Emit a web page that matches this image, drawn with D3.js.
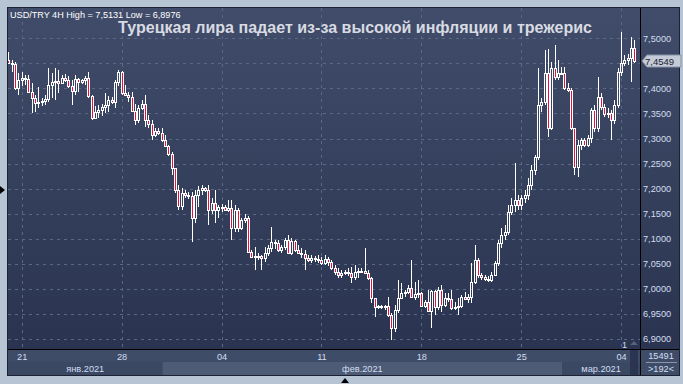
<!DOCTYPE html>
<html>
<head>
<meta charset="utf-8">
<script src="https://cdn.jsdelivr.net/npm/d3@7"></script>
<style>
  body { margin: 0; background: #b7c4d4; }
  svg { display: block; font-family: "Liberation Sans", Arial, sans-serif; }
</style>
</head>
<body>
<div id="chart"></div>
<script>
// USD/TRY 4H candles (open = previous close)
var firstOpen = 7.456;
var closes = [7.450,7.448,7.400,7.416,7.420,7.418,7.392,7.380,7.370,7.372,
  7.374,7.378,7.406,7.412,7.414,7.410,7.420,7.416,7.404,7.394,
  7.418,7.412,7.416,7.420,7.384,7.341,7.353,7.357,7.362,7.366,
  7.376,7.372,7.412,7.432,7.390,7.386,7.382,7.355,7.337,7.360,
  7.368,7.337,7.329,7.307,7.315,7.311,7.297,7.285,7.269,7.241,
  7.197,7.165,7.191,7.187,7.185,7.141,7.187,7.197,7.201,7.197,
  7.157,7.171,7.157,7.163,7.163,7.157,7.161,7.121,7.157,7.121,
  7.137,7.141,7.074,7.064,7.066,7.066,7.062,7.072,7.082,7.094,
  7.092,7.078,7.084,7.098,7.072,7.096,7.078,7.072,7.070,7.062,
  7.058,7.062,7.060,7.058,7.052,7.060,7.054,7.042,7.034,7.028,
  7.032,7.034,7.032,7.024,7.034,7.036,7.036,7.032,7.022,6.982,
  6.964,6.966,6.964,6.966,6.948,6.922,6.958,6.982,6.992,6.994,
  7.002,6.984,6.990,6.992,6.966,6.974,6.956,6.996,6.964,6.998,
  6.968,6.982,6.980,6.962,6.964,6.966,6.984,6.980,6.984,7.014,
  7.058,7.028,7.024,7.020,7.018,7.028,7.052,7.092,7.108,7.114,
  7.153,7.167,7.177,7.167,7.181,7.187,7.207,7.237,7.263,7.366,
  7.372,7.430,7.321,7.440,7.422,7.430,7.430,7.400,7.396,7.321,
  7.243,7.287,7.297,7.287,7.301,7.357,7.321,7.382,7.362,7.349,
  7.351,7.337,7.366,7.432,7.450,7.456,7.460,7.480,7.4549];
var highs = [7.472,7.456,7.452,7.430,7.432,7.426,7.426,7.410,7.386,7.402,
  7.380,7.386,7.440,7.430,7.440,7.436,7.426,7.428,7.424,7.416,
  7.426,7.420,7.418,7.424,7.432,7.386,7.364,7.366,7.368,7.390,
  7.384,7.382,7.416,7.436,7.434,7.406,7.392,7.392,7.368,7.366,
  7.376,7.386,7.347,7.337,7.321,7.321,7.321,7.307,7.287,7.273,
  7.241,7.207,7.201,7.197,7.193,7.193,7.197,7.205,7.207,7.203,
  7.207,7.181,7.197,7.167,7.169,7.167,7.177,7.177,7.167,7.161,
  7.141,7.149,7.145,7.078,7.084,7.072,7.068,7.084,7.088,7.123,
  7.098,7.098,7.088,7.102,7.108,7.102,7.098,7.088,7.082,7.078,
  7.068,7.068,7.066,7.068,7.064,7.068,7.064,7.058,7.048,7.042,
  7.038,7.038,7.042,7.044,7.048,7.042,7.042,7.082,7.038,7.024,
  6.982,6.968,6.968,6.968,6.984,6.952,6.968,7.018,7.012,6.998,
  7.008,7.058,7.014,7.018,6.994,6.978,6.998,6.998,6.998,7.004,
  7.008,6.992,6.992,6.998,6.974,6.982,6.988,6.994,6.990,7.052,
  7.088,7.062,7.032,7.028,7.026,7.034,7.056,7.098,7.121,7.127,
  7.167,7.181,7.251,7.187,7.187,7.197,7.221,7.247,7.267,7.440,
  7.380,7.476,7.478,7.452,7.486,7.456,7.442,7.442,7.410,7.400,
  7.321,7.297,7.301,7.301,7.307,7.360,7.366,7.422,7.390,7.368,
  7.360,7.357,7.376,7.440,7.5131,7.466,7.468,7.502,7.496];
var lows = [7.448,7.432,7.396,7.386,7.404,7.406,7.390,7.351,7.353,7.360,
  7.364,7.366,7.372,7.380,7.376,7.390,7.408,7.412,7.400,7.366,
  7.386,7.392,7.408,7.406,7.380,7.337,7.339,7.341,7.345,7.351,
  7.353,7.368,7.360,7.404,7.386,7.384,7.372,7.353,7.327,7.331,
  7.357,7.323,7.321,7.297,7.303,7.307,7.293,7.283,7.265,7.227,
  7.191,7.157,7.157,7.181,7.179,7.094,7.131,7.163,7.187,7.193,
  7.127,7.149,7.131,7.141,7.153,7.155,7.153,7.098,7.114,7.114,
  7.118,7.131,7.072,7.062,7.038,7.058,7.038,7.054,7.066,7.074,
  7.080,7.074,7.072,7.078,7.070,7.068,7.074,7.070,7.062,7.038,
  7.054,7.052,7.054,7.052,7.048,7.048,7.046,7.038,7.028,7.022,
  7.022,7.028,7.026,7.012,7.018,7.022,7.032,7.030,7.018,6.972,
  6.944,6.960,6.960,6.958,6.944,6.8976,6.914,6.952,6.980,6.984,
  6.990,6.982,6.978,6.982,6.964,6.962,6.954,6.922,6.948,6.958,
  6.954,6.964,6.974,6.958,6.958,6.948,6.962,6.978,6.972,6.972,
  7.010,7.022,7.018,7.016,7.014,7.014,7.026,7.046,7.082,7.098,
  7.108,7.147,7.153,7.157,7.157,7.171,7.177,7.197,7.227,7.257,
  7.353,7.366,7.303,7.317,7.416,7.416,7.426,7.396,7.392,7.317,
  7.227,7.223,7.277,7.283,7.283,7.291,7.313,7.313,7.357,7.343,
  7.341,7.297,7.329,7.360,7.424,7.444,7.446,7.412,7.450];

// axis ticks
var priceTicks = [7.50,7.45,7.40,7.35,7.30,7.25,7.20,7.15,7.10,7.05,7.00,6.95,6.90];
var dateTickIdx = [4,34,64,94,124,154,184];
var dateTickLabels = ["21","28","04","11","18","25","04"];
var monthLabels = ["янв.2021","фев.2021","мар.2021"];
var monthStartIdx = [-3,46,166];
var lastPrice = 7.4549;

var W = 683, H = 384;
var plot = {left: 8, top: 8, right: 640, bottom: 349};

var svg = d3.select("#chart").append("svg")
    .attr("width", W)
    .attr("height", H);

var defs = svg.append("defs");
var grad = defs.append("linearGradient")
    .attr("id", "bg").attr("x1", 0).attr("y1", 0).attr("x2", 0).attr("y2", 1);
grad.append("stop").attr("offset", "0%").attr("stop-color", "#404c69");
grad.append("stop").attr("offset", "100%").attr("stop-color", "#2a3451");
defs.append("clipPath").attr("id", "clip")
    .append("rect")
    .attr("x", plot.left).attr("y", plot.top)
    .attr("width", plot.right - plot.left).attr("height", plot.bottom - plot.top);

// panel background
svg.append("rect")
    .attr("x", plot.left).attr("y", plot.top)
    .attr("width", 680 - plot.left).attr("height", plot.bottom - plot.top)
    .attr("fill", "url(#bg)");

var x = d3.scaleLinear().domain([4, 184]).range([21.7, 621.1]);
var y = d3.scaleLinear().domain([6.9, 7.5]).range([339, 38.3]);

// gridlines
var grid = svg.append("g").attr("clip-path", "url(#clip)");
grid.selectAll(".hg")
    .data(priceTicks)
    .enter()
    .append("line")
    .attr("x1", plot.left).attr("x2", plot.right)
    .attr("y1", function (d) { return Math.round(y(d)) + 0.5; })
    .attr("y2", function (d) { return Math.round(y(d)) + 0.5; })
    .attr("stroke", "#5b6884")
    .attr("stroke-dasharray", "3,4");
grid.selectAll(".vg")
    .data(dateTickIdx)
    .enter()
    .append("line")
    .attr("y1", plot.top).attr("y2", plot.bottom)
    .attr("x1", function (d) { return Math.round(x(d)) + 0.5; })
    .attr("x2", function (d) { return Math.round(x(d)) + 0.5; })
    .attr("stroke", "#5b6884")
    .attr("stroke-dasharray", "3,4");

// candles
var candles = closes.map(function (c, i) {
    var o = i === 0 ? firstOpen : closes[i - 1];
    return {i: i, o: o, c: c, h: Math.max(highs[i], o, c), l: Math.min(lows[i], o, c)};
});

var cg = svg.append("g").attr("clip-path", "url(#clip)")
    .attr("shape-rendering", "crispEdges");

candles.forEach(function (d) {
    var cx = Math.round(x(d.i));
    var top = Math.round(y(Math.max(d.o, d.c)));
    var bot = Math.round(y(Math.min(d.o, d.c)));
    var hi = Math.round(y(d.h));
    var lo = Math.round(y(d.l));
    if (hi < top) {
        cg.append("line").attr("x1", cx + 0.5).attr("x2", cx + 0.5)
            .attr("y1", hi).attr("y2", top).attr("stroke", "#fff");
    }
    if (lo > bot) {
        cg.append("line").attr("x1", cx + 0.5).attr("x2", cx + 0.5)
            .attr("y1", bot).attr("y2", lo).attr("stroke", "#fff");
    }
    cg.append("rect")
        .attr("x", cx - 0.5)
        .attr("y", top + 0.5)
        .attr("width", 2)
        .attr("height", Math.max(bot - top, 1))
        .attr("fill", d.c < d.o ? "#e3133d" : "none")
        .attr("stroke", "#fff");
});

// bottom axis bands
svg.append("rect").attr("x", plot.left).attr("y", plot.bottom)
    .attr("width", 680 - plot.left).attr("height", 376 - plot.bottom)
    .attr("fill", "#3e4c68");
monthLabels.forEach(function (m, k) {
    var x0 = k === 0 ? plot.left : x(monthStartIdx[k]) + 1;
    var x1 = k === monthLabels.length - 1 ? plot.right : x(monthStartIdx[k + 1]) + 1;
    svg.append("rect").attr("x", x0).attr("y", 362)
        .attr("width", x1 - x0).attr("height", 14)
        .attr("fill", k % 2 === 1 ? "#4d5b77" : "#3a4864");
    svg.append("text").attr("x", (x0 + x1) / 2).attr("y", 372)
        .attr("text-anchor", "middle")
        .attr("font-size", 9.2).attr("fill", "#d3def0")
        .text(m);
});

// scroll strip near right
svg.append("rect").attr("x", 630).attr("y", 349).attr("width", 8).attr("height", 27)
    .attr("fill", "#2b3551");
svg.append("path").attr("d", "M630,345 L634,341 L638,345 Z").attr("fill", "#55627c");
svg.append("text").attr("x", 622).attr("y", 348)
    .attr("font-size", 9).attr("fill", "#d3def0").text("1");

var xAxis = d3.axisBottom(x)
    .tickValues(dateTickIdx)
    .tickFormat(function (d, k) { return dateTickLabels[k]; })
    .tickSize(0)
    .tickPadding(4);
var xg = svg.append("g").attr("transform", "translate(0," + plot.bottom + ")").call(xAxis);
xg.select(".domain").remove();
xg.selectAll("text").attr("font-size", 9.2).attr("fill", "#d3def0")
    .attr("font-family", "Liberation Sans, Arial, sans-serif");

// right price axis (7,45 label sits under the current price tag)
var yAxis = d3.axisRight(y)
    .tickValues(priceTicks.filter(function (d) { return Math.abs(d - lastPrice) > 0.02; }))
    .tickFormat(function (d) { return d.toFixed(4).replace(".", ","); })
    .tickSize(0)
    .tickPadding(3);
var yg = svg.append("g").attr("transform", "translate(" + plot.right + ",0)").call(yAxis);
yg.select(".domain").remove();
yg.selectAll("text").attr("font-size", 9.2).attr("fill", "#d3def0")
    .attr("font-family", "Liberation Sans, Arial, sans-serif");

// separators
svg.append("line").attr("x1", plot.left).attr("x2", 680)
    .attr("y1", plot.bottom + 0.5).attr("y2", plot.bottom + 0.5)
    .attr("stroke", "#000");
svg.append("line").attr("x1", plot.right + 0.5).attr("x2", plot.right + 0.5)
    .attr("y1", plot.top).attr("y2", 376)
    .attr("stroke", "#000");
svg.append("rect").attr("x", plot.left - 0.5).attr("y", plot.top - 0.5)
    .attr("width", 680 - plot.left).attr("height", 376 - plot.top)
    .attr("fill", "none").attr("stroke", "#1c2233");

// current price label
var py = Math.round(y(lastPrice));
svg.append("path")
    .attr("d", "M642," + py + " L647," + (py - 6) + " L681," + (py - 6) +
        " L681," + (py + 6) + " L647," + (py + 6) + " Z")
    .attr("fill", "#c4cbd6").attr("stroke", "#8793a6");
svg.append("text").attr("x", 645).attr("y", py + 4)
    .attr("font-size", 9.5).attr("fill", "#1b2233")
    .text(lastPrice.toFixed(4).replace(".", ","));

// bars counter box
svg.append("text").attr("x", 661).attr("y", 359).attr("text-anchor", "middle")
    .attr("font-size", 9.2).attr("fill", "#d3def0").text("15491");
svg.append("line").attr("x1", 646).attr("x2", 677).attr("y1", 362.5).attr("y2", 362.5)
    .attr("stroke", "#8894aa");
svg.append("text").attr("x", 661).attr("y", 372).attr("text-anchor", "middle")
    .attr("font-size", 9.2).attr("fill", "#d3def0").text(">192<");

// headers
svg.append("text").attr("x", 10).attr("y", 18)
    .attr("font-size", 9.1).attr("fill", "#ffffff")
    .text("USD/TRY 4H High = 7,5131 Low = 6,8976");
svg.append("text").attr("x", 355).attr("y", 33)
    .attr("text-anchor", "middle")
    .attr("font-size", 16).attr("font-weight", "bold")
    .attr("fill", "#d8dbe2")
    .attr("textLength", 474).attr("lengthAdjust", "spacingAndGlyphs")
    .text("Турецкая лира падает из-за высокой инфляции и трежерис");

// little frame markers
svg.append("path").attr("d", "M0,186 L5,190 L0,194 Z").attr("fill", "#000");
svg.append("path").attr("d", "M341,383 L345,378 L349,383 Z").attr("fill", "#000");
</script>
</body>
</html>
